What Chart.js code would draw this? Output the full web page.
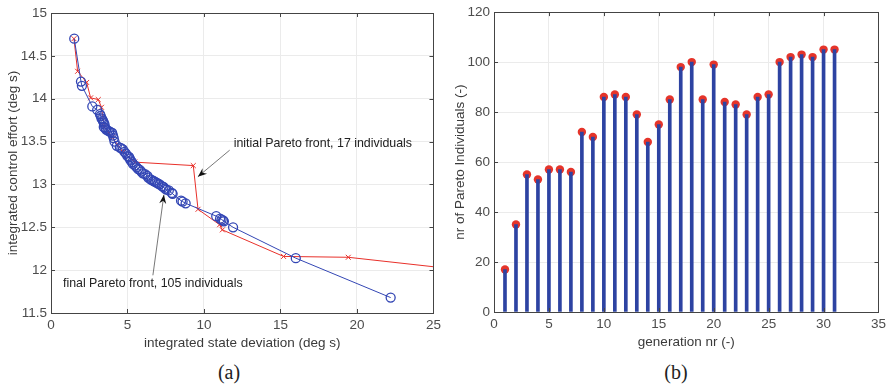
<!DOCTYPE html>
<html>
<head>
<meta charset="utf-8">
<script src="https://cdn.jsdelivr.net/npm/chart.js@4.4.0/dist/chart.umd.min.js"></script>
<style>
  body { margin: 0; background: #fff; width: 890px; height: 387px; position: relative; overflow: hidden; }
  .wrap { position: absolute; top: 0; width: 445px; height: 360px; }
  #wrapA { left: 0; }
  #wrapB { left: 445px; }
  .cap { position: absolute; top: 361px; font-family: "Liberation Serif", serif; font-size: 20px; color: #222; transform: translateX(-50%); }
</style>
</head>
<body>
<div class="wrap" id="wrapA"><canvas id="chartA" width="445" height="360"></canvas></div>
<div class="wrap" id="wrapB"><canvas id="chartB" width="445" height="360"></canvas></div>
<div class="cap" style="left:229px">(a)</div>
<div class="cap" style="left:676px">(b)</div>
<script>
// final Pareto front, blue circles
const finalX = [1.52, 1.96, 2.02, 2.7, 3.02, 3.2, 3.25, 3.3, 3.35, 3.4, 3.45, 3.5, 3.45, 3.55, 3.6, 3.7, 3.8, 3.9,
  4.0, 4.05, 4.1, 4.15, 4.3, 4.5, 4.6, 4.7, 4.8, 4.9, 5.0, 5.1, 5.15, 5.2, 5.3, 5.35, 5.5, 5.6, 5.7, 5.8,
  5.9, 6.0, 6.15, 6.3, 6.35, 6.5, 6.6, 6.7, 6.8, 6.9, 7.0, 7.1, 7.25, 7.35, 7.45, 7.55, 7.7, 7.9, 7.95,
  8.5, 8.6, 8.8, 10.8, 11.05, 11.15, 11.25, 11.3, 11.9, 16.0, 22.2];
const finalY = [14.7, 14.2, 14.15, 13.91, 13.87, 13.82, 13.8, 13.77, 13.76, 13.74, 13.72, 13.7, 13.67, 13.66, 13.64, 13.63, 13.62, 13.61,
  13.6, 13.57, 13.54, 13.5, 13.45, 13.43, 13.42, 13.41, 13.38, 13.36, 13.33, 13.32, 13.3, 13.28, 13.26, 13.24, 13.22, 13.2, 13.18, 13.17,
  13.15, 13.13, 13.12, 13.1, 13.08, 13.06, 13.05, 13.04, 13.03, 13.02, 13.01, 13.0, 12.98, 12.97, 12.95, 12.94, 12.93, 12.9, 12.89,
  12.81, 12.8, 12.78, 12.63, 12.6, 12.59, 12.58, 12.57, 12.5, 12.14, 11.68];

// initial Pareto front, red crosses
const initX = [1.5, 1.74, 2.33, 2.59, 3.09, 3.3, 3.48, 4.0, 4.7, 5.48, 9.3, 9.61, 11.02, 11.2, 15.2, 19.43, 27.0];
const initY = [14.7, 14.32, 14.19, 14.01, 13.99, 13.9, 13.67, 13.55, 13.38, 13.26, 13.22, 12.71, 12.53, 12.47, 12.16, 12.15, 12.0];

// right panel: pareto individuals per generation
const generations = [1, 2, 3, 4, 5, 6, 7, 8, 9, 10, 11, 12, 13, 14, 15, 16, 17, 18, 19, 20, 21, 22, 23, 24, 25, 26, 27, 28, 29, 30, 31];
const nrIndividuals = [17, 35, 55, 53, 57, 57, 56, 72, 70, 86, 87, 86, 79, 68, 75, 85, 98, 100, 85, 99, 84, 83, 79, 86, 87, 100, 102, 103, 102, 105, 105];

const xTicksA = [0, 5, 10, 15, 20, 25];
const yTicksA = [11.5, 12, 12.5, 13, 13.5, 14, 14.5, 15];
const xTicksB = [0, 5, 10, 15, 20, 25, 30, 35];
const yTicksB = [0, 20, 40, 60, 80, 100, 120];

const blue = '#3346b4';
const red = '#e8302a';
const stemBlue = '#2d43a2';
const dotRed = '#e5342a';
const axisCol = '#444';
const tickCol = '#4d4d4d';
const gridCol = '#ebebeb';
const sans = 'Liberation Sans';

const zip = (xs, ys) => xs.map((x, i) => ({ x: x, y: ys[i] }));

// box around the plot + inward tick marks (matlab style)
const boxPlugin = {
  id: 'box',
  afterDatasetsDraw(chart) {
    const { ctx, chartArea: a, scales } = chart;
    ctx.save();
    ctx.strokeStyle = axisCol;
    ctx.lineWidth = 1;
    ctx.strokeRect(Math.round(a.left) + 0.5, Math.round(a.top) + 0.5, Math.round(a.right - a.left), Math.round(a.bottom - a.top));
    ctx.beginPath();
    scales.x.ticks.forEach(t => {
      const px = Math.round(scales.x.getPixelForValue(t.value)) + 0.5;
      ctx.moveTo(px, a.bottom); ctx.lineTo(px, a.bottom - 4);
      ctx.moveTo(px, a.top); ctx.lineTo(px, a.top + 4);
    });
    scales.y.ticks.forEach(t => {
      const py = Math.round(scales.y.getPixelForValue(t.value)) + 0.5;
      ctx.moveTo(a.left, py); ctx.lineTo(a.left + 4, py);
      ctx.moveTo(a.right, py); ctx.lineTo(a.right - 4, py);
    });
    ctx.stroke();
    ctx.restore();
  }
};

// text annotations with arrows, given in data units
const notePlugin = {
  id: 'notes',
  afterDatasetsDraw(chart, args, opts) {
    const { ctx, scales } = chart;
    (opts.items || []).forEach(n => {
      const tx = scales.x.getPixelForValue(n.text[0]);
      const ty = scales.y.getPixelForValue(n.text[1]);
      ctx.save();
      ctx.font = '12.4px "' + sans + '"';
      ctx.fillStyle = '#222';
      ctx.textBaseline = 'middle';
      ctx.fillText(n.label, tx, ty);
      const x1 = scales.x.getPixelForValue(n.from[0]), y1 = scales.y.getPixelForValue(n.from[1]);
      const x2 = scales.x.getPixelForValue(n.to[0]), y2 = scales.y.getPixelForValue(n.to[1]);
      ctx.strokeStyle = '#555';
      ctx.lineWidth = 0.8;
      ctx.beginPath(); ctx.moveTo(x1, y1); ctx.lineTo(x2, y2); ctx.stroke();
      const ang = Math.atan2(y2 - y1, x2 - x1);
      ctx.fillStyle = '#111';
      ctx.beginPath();
      ctx.moveTo(x2, y2);
      ctx.lineTo(x2 - 9 * Math.cos(ang) + 3.5 * Math.sin(ang), y2 - 9 * Math.sin(ang) - 3.5 * Math.cos(ang));
      ctx.lineTo(x2 - 6 * Math.cos(ang), y2 - 6 * Math.sin(ang));
      ctx.lineTo(x2 - 9 * Math.cos(ang) - 3.5 * Math.sin(ang), y2 - 9 * Math.sin(ang) + 3.5 * Math.cos(ang));
      ctx.closePath();
      ctx.fill();
      ctx.restore();
    });
  }
};

function axis(min, max, ticks, title, fitSize, titlePad, isY) {
  return {
    type: 'linear', min: min, max: max, offset: false,
    afterBuildTicks: s => { s.ticks = ticks.map(v => ({ value: v })); },
    afterFit: s => { if (isY) s.width = fitSize; else s.height = fitSize; },
    ticks: { color: tickCol, font: { family: sans, size: 13.5 }, padding: isY ? 4 : 4, maxRotation: 0,
      callback: v => String(v) },
    grid: { color: gridCol, drawTicks: false, offset: false },
    border: { color: axisCol },
    title: { display: true, text: title, color: '#3a3a3a', font: { family: sans, size: 13.5 },
      padding: isY ? { top: titlePad, bottom: 0 } : { top: 0, bottom: titlePad } }
  };
}

new Chart(document.getElementById('chartA'), {
  type: 'scatter',
  data: {
    datasets: [
      { label: 'initial Pareto front', data: zip(initX, initY), showLine: true, borderColor: red, borderWidth: 1,
        pointStyle: 'crossRot', pointRadius: 3.5, pointBorderColor: red, pointBorderWidth: 1, order: 2 },
      { label: 'final Pareto front', data: zip(finalX, finalY), showLine: true, borderColor: blue, borderWidth: 1,
        pointStyle: 'circle', pointRadius: 4.5, pointBorderColor: blue, pointBackgroundColor: 'rgba(0,0,0,0)',
        pointBorderWidth: 1.3, order: 1 }
    ]
  },
  options: {
    responsive: false, animation: false,
    layout: { padding: { top: 13, right: 11, bottom: 0, left: 0 } },
    scales: {
      x: axis(0, 25, xTicksA, 'integrated state deviation (deg s)', 47, 9, false),
      y: axis(11.5, 15, yTicksA, 'integrated control effort (deg s)', 51, 5, true)
    },
    plugins: {
      legend: { display: false }, tooltip: { enabled: false },
      notes: { items: [
        { label: 'initial Pareto front, 17 individuals', text: [11.94, 13.48], from: [11.68, 13.40], to: [9.6, 13.09] },
        { label: 'final Pareto front, 105 individuals', text: [0.78, 11.84], from: [6.66, 11.94], to: [7.38, 12.88] }
      ] }
    }
  },
  plugins: [boxPlugin, notePlugin]
});

new Chart(document.getElementById('chartB'), {
  type: 'bar',
  data: {
    datasets: [
      { type: 'line', data: zip(generations, nrIndividuals), showLine: false, pointRadius: 4.2,
        pointBackgroundColor: dotRed, pointBorderWidth: 0, order: 2 },
      { type: 'bar', data: zip(generations, nrIndividuals), backgroundColor: stemBlue, barThickness: 3,
        borderWidth: 0, order: 1 }
    ]
  },
  options: {
    responsive: false, animation: false,
    layout: { padding: { top: 8, right: 11, bottom: 0, left: 0 } },
    scales: {
      x: axis(0, 35, xTicksB, 'generation nr (-)', 48, 10, false),
      y: axis(0, 120, yTicksB, 'nr of Pareto Individuals (-)', 49, 7, true)
    },
    plugins: { legend: { display: false }, tooltip: { enabled: false } }
  },
  plugins: [boxPlugin]
});
</script>
</body>
</html>
